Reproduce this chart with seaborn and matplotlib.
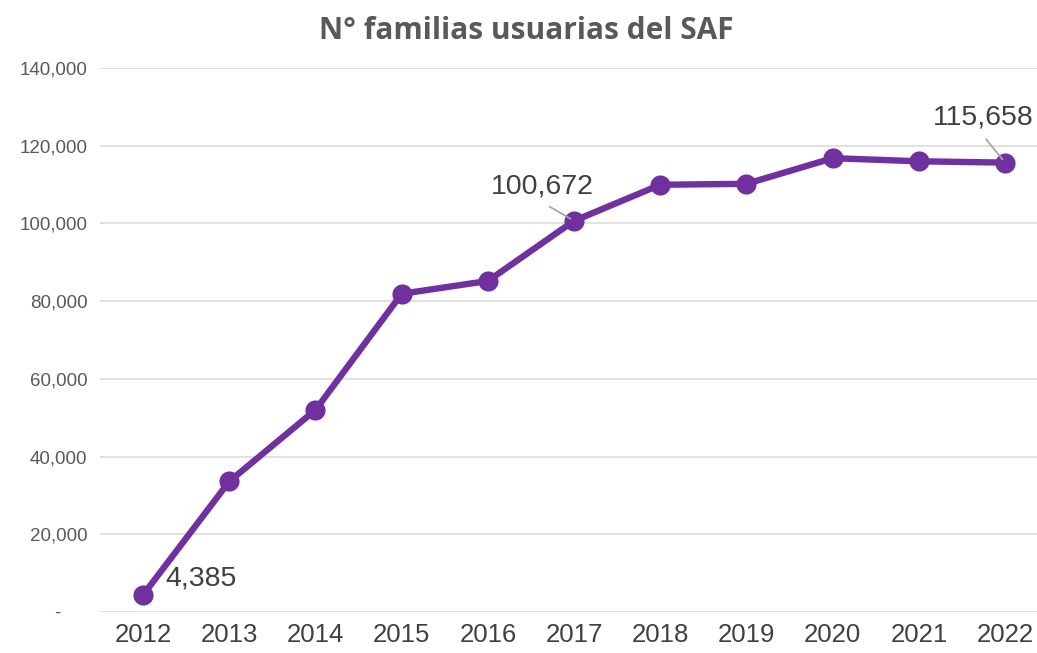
import seaborn as sns
import pandas as pd
import matplotlib
matplotlib.use("Agg")
import matplotlib.pyplot as plt
from matplotlib.ticker import FuncFormatter

years = ["2012", "2013", "2014", "2015", "2016", "2017",
         "2018", "2019", "2020", "2021", "2022"]
familias = [4385, 33600, 52000, 81900, 85200, 100672,
            109960, 110200, 116800, 116000, 115658]
y_ticks = [0, 20000, 40000, 60000, 80000, 100000, 120000, 140000]

sns.set_style("white")
plt.rcParams['font.family'] = ['Liberation Sans', 'DejaVu Sans']

df = pd.DataFrame({"year": years, "n": familias})

fig = plt.figure(figsize=(10.37, 6.53), dpi=100)
ax = fig.add_axes([0.0964, 0.0628, 0.9036, 0.833])

sns.lineplot(data=df, x="year", y="n", ax=ax, color="#7030A0",
             linewidth=4.6, marker="o", markersize=14.5,
             markeredgewidth=0, sort=False)

ax.set_ylim(0, 140000)
ax.set_xlim(-0.5, 10.37)
ax.set_yticks(y_ticks)
ax.yaxis.set_major_formatter(FuncFormatter(lambda v, p: "-     " if v == 0 else f"{v:,.0f}"))
ax.grid(axis="y", color="#D9D9D9", linewidth=1.1)
ax.set_axisbelow(True)
for s in ax.spines.values():
    s.set_visible(False)
ax.tick_params(axis="both", length=0)
ax.tick_params(axis="y", labelsize=13.5, labelcolor="#595959", pad=9)
ax.tick_params(axis="x", labelsize=18.5, labelcolor="#404040", pad=8)
ax.set_xlabel("")
ax.set_ylabel("")

# data labels
lab_col = "#404040"
leader = dict(arrowstyle="-", color="#A6A6A6", lw=1.3,
              shrinkA=5, shrinkB=3, relpos=(0.46, 0.0))
ax.annotate(f"{familias[0]:,}", xy=(0, familias[0]), xytext=(22, 16),
            textcoords="offset pixels", fontsize=20.5, color=lab_col,
            ha="left", va="center")
ax.annotate(f"{familias[5]:,}", xy=(5, familias[5]), xytext=(-32, 34),
            textcoords="offset pixels", fontsize=20.5, color=lab_col,
            ha="center", va="center", arrowprops=leader)
ax.annotate(f"{familias[10]:,}", xy=(10, familias[10]), xytext=(-22, 45),
            textcoords="offset pixels", fontsize=20.5, color=lab_col,
            ha="center", va="center", arrowprops=leader)

fig.text(0.508, 0.953, "N° familias usuarias del SAF", ha="center", va="center",
         fontsize=21.5, fontweight="bold", color="#595959",
         family=["Open Sans", "DejaVu Sans"])

fig.savefig("out.png", dpi=100)
